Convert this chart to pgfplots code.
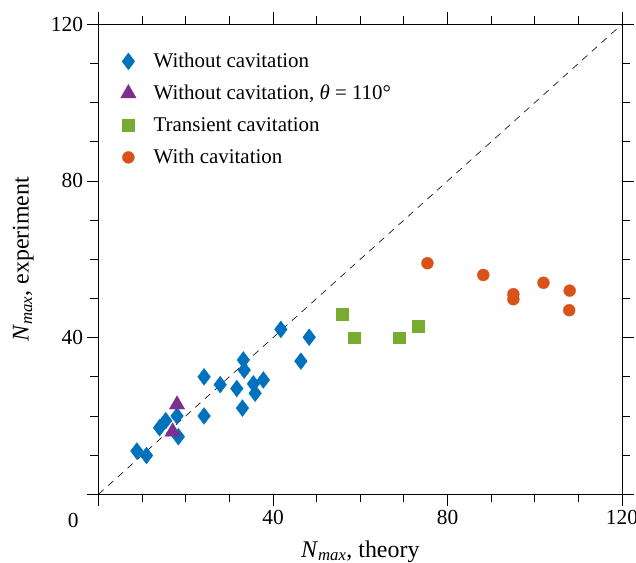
\documentclass[border=0pt]{standalone}
\usepackage{fontspec}
\setmainfont{Liberation Serif}
\usepackage{pgfplots}
\pgfplotsset{compat=1.18}
\definecolor{mblue}{HTML}{0072BD}
\definecolor{mpurple}{HTML}{7E2F8E}
\definecolor{mgreen}{HTML}{77AC30}
\definecolor{morange}{HTML}{D95319}
\begin{document}
\begin{tikzpicture}
\begin{axis}[
  name=ax,
  scale only axis,
  width=523.5bp, height=470bp,
  xmin=0, xmax=120, ymin=0, ymax=120,
  xtick={0,40,80,120}, ytick={0,40,80,120},
  xticklabels={{},40,80,120}, yticklabels={{},40,80,120},
  minor tick num=3,
  tick align=outside,
  major tick length=12bp, minor tick length=8bp,
  axis line style={line width=0.8pt},
  every tick/.style={black, line width=0.8pt},
  /pgf/number format/assume math mode=true,
  tick label style={font=\fontsize{21.5}{25}\selectfont},
  xlabel={\textit{N}\textsubscript{\textit{max}}, theory},
  ylabel={\textit{N}\textsubscript{\textit{max}}, experiment},
  every axis x label/.style={at={(axis description cs:0.5,-0.1334)}, anchor=base, font=\fontsize{24}{28}\selectfont},
  every axis y label/.style={at={(axis description cs:-0.1337,0.5)}, rotate=90, anchor=base, font=\fontsize{24}{28}\selectfont},
  legend style={draw=none, fill=none, inner sep=0pt, at={(axis description cs:0,1)}, anchor=north west, xshift=17.5bp, yshift=-26.4bp, row sep=11bp, column sep=13bp, font=\fontsize{21}{25}\selectfont, nodes={inner sep=0pt, text height=17bp, text depth=4bp}},
  legend cell align=left,
  legend image code/.code={\path (-12bp,-10bp) (12bp,10bp); \draw[#1] plot coordinates {(0bp,0bp)};},
]
\addplot[only marks, mark=diamond*, mark size=8.5pt, mark options={fill=mblue, draw=mblue, line width=0.3pt}] coordinates {
(8.8,11.05) (11.0,9.9) (14.0,17.0) (15.4,18.8) (18.0,20.0) (18.3,14.7)
(24.2,20.0) (24.2,30.0) (27.9,28.0) (33.2,34.3) (33.4,31.7) (31.7,27.0)
(35.5,28.2) (35.9,25.8) (37.8,29.2) (33.0,22.0) (41.8,42.1) (48.3,40.1) (46.4,34.0)
};
\addlegendentry{Without cavitation}
\addplot[only marks, mark=triangle*, mark size=9pt, mark options={fill=mpurple, draw=mpurple, line width=0.3pt}] coordinates {
(18.0,22.9) (17.0,16.0)
};
\addlegendentry{Without cavitation, \textit{θ} = 110°}
\addplot[only marks, mark=square*, mark size=6pt, mark options={fill=mgreen, draw=mgreen, line width=0.3pt}] coordinates {
(55.8,46.0) (58.6,40.0) (68.9,40.0) (73.2,43.0)
};
\addlegendentry{Transient cavitation}
\addplot[only marks, mark=*, mark size=6pt, mark options={fill=morange, draw=morange, line width=0.3pt}] coordinates {
(75.4,59.0) (88.2,56.0) (95.1,51.1) (95.1,49.8) (102.0,54.0) (108.0,52.0) (107.9,47.0)
};
\addlegendentry{With cavitation}
\addplot[black, line width=0.6pt, dash pattern=on 7bp off 6bp, forget plot] coordinates {(0,0) (120,120)};
\end{axis}
\node[font=\fontsize{21.5}{25}\selectfont, anchor=center] at ([xshift=-25.2bp, yshift=-26.4bp]ax.south west) {0};
\pgfresetboundingbox
\path[use as bounding box] ([shift={(-98.5bp,-68.7bp)}]ax.south west) rectangle ([shift={(14bp,24.3bp)}]ax.north east);
\end{tikzpicture}
\end{document}
